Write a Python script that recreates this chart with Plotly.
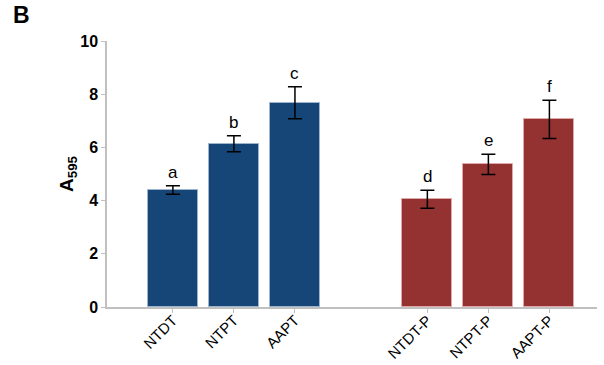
import plotly.graph_objects as go

categories = ["NTDT", "NTPT", "AAPT", "NTDT-P", "NTPT-P", "AAPT-P"]
x_pos = [0, 1, 2, 4.17, 5.17, 6.17]
values = [4.40, 6.14, 7.68, 4.05, 5.36, 7.05]
errors = [0.16, 0.30, 0.60, 0.34, 0.38, 0.72]
letters = ["a", "b", "c", "d", "e", "f"]
colors = ["#154677"] * 3 + ["#943131"] * 3
outline = ["#9db4cc"] * 3 + ["#e0a8a8"] * 3

fig = go.Figure()
fig.add_trace(go.Bar(
    x=x_pos, y=values, width=0.82,
    marker=dict(color=colors, line=dict(color=outline, width=1)),
    error_y=dict(type="data", array=errors, color="black", thickness=1.5, width=7),
    showlegend=False,
))
for xp, v, e, t in zip(x_pos, values, errors, letters):
    fig.add_annotation(x=xp, y=v + e, text=t, showarrow=False, yanchor="bottom",
                       yshift=2, font=dict(size=17, color="black", family="Liberation Sans"))

fig.add_annotation(xref="paper", yref="paper", x=-0.195, y=1.04, text="<b>B</b>",
                   showarrow=False, xanchor="left", yanchor="bottom",
                   font=dict(size=23, color="black", family="Liberation Sans"))

fig.update_layout(
    width=604, height=365,
    margin=dict(l=107, r=7, t=41, b=58),
    plot_bgcolor="white", paper_bgcolor="white",
    font=dict(family="Liberation Sans", color="black"),
    bargap=0,
)
fig.update_xaxes(
    range=[-1.08, 6.95], tickmode="array", tickvals=x_pos, ticktext=categories,
    tickangle=-45, tickfont=dict(size=15, color="black"), automargin=False,
    ticklabelstandoff=-7,
    showline=True, linecolor="#c0c0c0", linewidth=1.5,
    ticks="outside", ticklen=4, tickcolor="#c0c0c0", showgrid=False, zeroline=False,
)
fig.update_yaxes(
    range=[0, 10], tickvals=[0, 2, 4, 6, 8, 10], ticktext=["<b>%d</b>" % v for v in [0, 2, 4, 6, 8, 10]],
    tickfont=dict(size=16, color="black"), automargin=False,
    showline=True, linecolor="#c0c0c0", linewidth=1.5,
    ticks="outside", ticklen=4, tickcolor="#c0c0c0", showgrid=False, zeroline=False,
    title=dict(text="<b>A<sub>595</sub></b>", font=dict(size=19, color="black"), standoff=2),
)
fig.write_html("out.html", config={"displayModeBar": False},
               post_script="document.body.style.margin='0';document.body.style.overflow='hidden';")
